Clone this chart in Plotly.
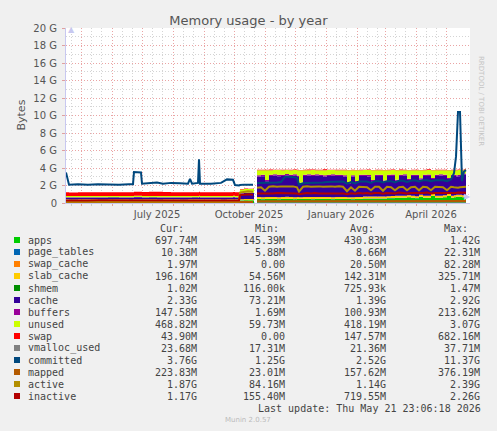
import plotly.graph_objects as go

# values in GiB, sampled from the yearly munin graph
dates = [
    "2025-04-16", "2025-04-19", "2025-04-28", "2025-05-08", "2025-05-18", "2025-05-28",
    "2025-06-08", "2025-06-18", "2025-06-22", "2025-06-23", "2025-06-30", "2025-07-01",
    "2025-07-08", "2025-07-16", "2025-07-22", "2025-07-30", "2025-08-08", "2025-08-16",
    "2025-08-18", "2025-08-20", "2025-08-26", "2025-08-27", "2025-08-28", "2025-09-08",
    "2025-09-18", "2025-09-24", "2025-09-30", "2025-10-02", "2025-10-06",
    "2025-10-07", "2025-10-11", "2025-10-15", "2025-10-20",
    "2025-10-21",
    "2025-10-24", "2025-10-28", "2025-11-01", "2025-11-05", "2025-11-09", "2025-11-13",
    "2025-11-17", "2025-11-21", "2025-11-25", "2025-11-29", "2025-12-03", "2025-12-05",
    "2025-12-09", "2025-12-13", "2025-12-17", "2025-12-21", "2025-12-25", "2025-12-29",
    "2026-01-02", "2026-01-06", "2026-01-10", "2026-01-14", "2026-01-18", "2026-01-22",
    "2026-01-26", "2026-01-30", "2026-02-03", "2026-02-07", "2026-02-11", "2026-02-15",
    "2026-02-19", "2026-02-23", "2026-02-27", "2026-03-03", "2026-03-07", "2026-03-11",
    "2026-03-15", "2026-03-19", "2026-03-23", "2026-03-27", "2026-03-31", "2026-04-04",
    "2026-04-08", "2026-04-12", "2026-04-16", "2026-04-20", "2026-04-24", "2026-04-28",
    "2026-05-02", "2026-05-06", "2026-05-09", "2026-05-11", "2026-05-13", "2026-05-15",
    "2026-05-17", "2026-05-19", "2026-05-21",
]

apps = [
    0.35, 0.34, 0.35, 0.35, 0.34, 0.35, 0.35, 0.34, 0.35, 0.36, 0.36, 0.35, 0.35, 0.34, 0.35,
    0.35, 0.34, 0.35, 0.35, 0.35, 0.35, 0.36, 0.35, 0.35, 0.34, 0.35, 0.36, 0.35, 0.35,
    0.30, 0.32, 0.31, 0.30,
    0,
    0.45, 0.44, 0.45, 0.46, 0.45, 0.44, 0.45, 0.46, 0.45, 0.44,
    0.45, 0.45, 0.46, 0.45, 0.44, 0.45, 0.46, 0.45, 0.45, 0.44,
    0.45, 0.46, 0.45, 0.45, 0.44, 0.45, 0.46, 0.50, 0.50, 0.50,
    0.50, 0.50, 0.50, 0.55, 0.55, 0.60, 0.60, 0.60, 0.65, 0.60,
    0.55, 0.70, 0.60, 0.60, 0.80, 0.60, 0.60, 0.65, 0.80, 0.60,
    0.65, 0.70, 0.70, 0.70, 0.65, 0.70, 0.70,
]
page_tables = [
    0.006, 0.006, 0.006, 0.006, 0.006, 0.006, 0.006, 0.006, 0.006, 0.006, 0.006, 0.006, 0.006,
    0.006, 0.006, 0.006, 0.006, 0.006, 0.006, 0.006, 0.006, 0.006, 0.006, 0.006, 0.006, 0.006,
    0.006, 0.006, 0.006,
    0.008, 0.008, 0.008, 0.008,
    0,
    0.010, 0.010, 0.010, 0.010, 0.010, 0.010, 0.010, 0.010, 0.010, 0.010,
    0.010, 0.010, 0.010, 0.010, 0.010, 0.010, 0.010, 0.010, 0.010, 0.010,
    0.010, 0.010, 0.010, 0.010, 0.010, 0.010, 0.010, 0.010, 0.010, 0.010,
    0.010, 0.010, 0.010, 0.010, 0.010, 0.010, 0.010, 0.010, 0.010, 0.010,
    0.010, 0.010, 0.010, 0.010, 0.010, 0.010, 0.010, 0.010, 0.010, 0.010,
    0.010, 0.011, 0.012, 0.012, 0.011, 0.010, 0.010,
]
swap_cache = [
    0.004, 0.004, 0.004, 0.004, 0.004, 0.004, 0.004, 0.004, 0.004, 0.005, 0.005, 0.004, 0.004,
    0.004, 0.004, 0.004, 0.004, 0.004, 0.004, 0.004, 0.004, 0.005, 0.004, 0.004, 0.004, 0.004,
    0.004, 0.004, 0.004,
    0.010, 0.010, 0.010, 0.010,
    0,
    0.020, 0.020, 0.030, 0.020, 0.020, 0.020, 0.020, 0.020, 0.020, 0.020,
    0.020, 0.030, 0.020, 0.020, 0.020, 0.020, 0.020, 0.020, 0.020, 0.020,
    0.020, 0.020, 0.020, 0.030, 0.020, 0.030, 0.020, 0.020, 0.020, 0.030,
    0.020, 0.020, 0.030, 0.020, 0.020, 0.030, 0.020, 0.020, 0.030, 0.020,
    0.020, 0.030, 0.020, 0.020, 0.030, 0.020, 0.020, 0.020, 0.030, 0.020,
    0.020, 0.020, 0.020, 0.020, 0.020, 0.010, 0.002,
]
slab_cache = [
    0.06, 0.06, 0.06, 0.06, 0.06, 0.06, 0.06, 0.06, 0.06, 0.06, 0.06, 0.06, 0.06, 0.06, 0.06,
    0.06, 0.06, 0.06, 0.06, 0.06, 0.06, 0.06, 0.06, 0.06, 0.06, 0.06, 0.06, 0.06, 0.06,
    0.12, 0.12, 0.12, 0.12,
    0,
    0.20, 0.20, 0.19, 0.20, 0.21, 0.20, 0.20, 0.21, 0.20, 0.20,
    0.20, 0.18, 0.20, 0.20, 0.21, 0.20, 0.20, 0.20, 0.21, 0.20,
    0.20, 0.20, 0.20, 0.18, 0.20, 0.19, 0.20, 0.20, 0.21, 0.19,
    0.20, 0.20, 0.19, 0.20, 0.21, 0.19, 0.20, 0.20, 0.19, 0.20,
    0.20, 0.19, 0.20, 0.21, 0.19, 0.20, 0.20, 0.20, 0.19, 0.20,
    0.20, 0.20, 0.21, 0.21, 0.20, 0.20, 0.196,
]
shmem = [
    0.0005, 0.0005, 0.0005, 0.0005, 0.0005, 0.0005, 0.0005, 0.0005, 0.0005, 0.0005, 0.0005,
    0.0005, 0.0005, 0.0005, 0.0005, 0.0005, 0.0005, 0.0005, 0.0005, 0.0005, 0.0005, 0.0005,
    0.0005, 0.0005, 0.0005, 0.0005, 0.0005, 0.0005, 0.0005,
    0.0008, 0.0008, 0.0008, 0.0008,
    0,
    0.001, 0.001, 0.001, 0.001, 0.001, 0.001, 0.001, 0.001, 0.001, 0.001,
    0.001, 0.001, 0.001, 0.001, 0.001, 0.001, 0.001, 0.001, 0.001, 0.001,
    0.001, 0.001, 0.001, 0.001, 0.001, 0.001, 0.001, 0.001, 0.001, 0.001,
    0.001, 0.001, 0.001, 0.001, 0.001, 0.001, 0.001, 0.001, 0.001, 0.001,
    0.001, 0.001, 0.001, 0.001, 0.001, 0.001, 0.001, 0.001, 0.001, 0.001,
    0.001, 0.001, 0.001, 0.001, 0.001, 0.001, 0.001,
]
cache = [
    0.22, 0.22, 0.21, 0.22, 0.22, 0.23, 0.22, 0.22, 0.21, 0.22, 0.22, 0.22, 0.23, 0.22, 0.22,
    0.21, 0.22, 0.22, 0.22, 0.23, 0.22, 0.22, 0.22, 0.21, 0.22, 0.22, 0.23, 0.22, 0.22,
    0.65, 0.70, 0.72, 0.70,
    0,
    2.35, 2.40, 1.80, 2.40, 2.45, 2.40, 2.40, 2.45, 2.40, 2.45,
    2.30, 1.50, 2.40, 2.45, 2.40, 2.45, 2.40, 2.35, 2.40, 2.45,
    2.40, 2.40, 2.35, 1.60, 2.35, 1.70, 2.40, 2.35, 2.30, 1.75,
    2.35, 2.35, 1.70, 2.30, 2.30, 1.70, 2.25, 2.30, 1.75, 2.25,
    2.30, 1.75, 2.25, 2.25, 1.70, 2.25, 2.30, 2.20, 1.70, 2.25,
    2.20, 2.10, 2.10, 2.15, 2.25, 2.30, 2.33,
]
buffers = [
    0.02, 0.02, 0.02, 0.02, 0.02, 0.02, 0.02, 0.02, 0.02, 0.02, 0.02, 0.02, 0.02, 0.02, 0.02,
    0.02, 0.02, 0.02, 0.02, 0.02, 0.02, 0.02, 0.02, 0.02, 0.02, 0.02, 0.02, 0.02, 0.02,
    0.04, 0.04, 0.04, 0.04,
    0,
    0.15, 0.15, 0.14, 0.15, 0.15, 0.16, 0.15, 0.15, 0.15, 0.16,
    0.15, 0.14, 0.15, 0.15, 0.16, 0.15, 0.15, 0.15, 0.15, 0.16,
    0.15, 0.15, 0.15, 0.14, 0.15, 0.14, 0.15, 0.16, 0.15, 0.14,
    0.15, 0.15, 0.14, 0.15, 0.16, 0.14, 0.15, 0.15, 0.14, 0.15,
    0.15, 0.14, 0.15, 0.16, 0.14, 0.15, 0.15, 0.15, 0.14, 0.15,
    0.15, 0.15, 0.15, 0.15, 0.15, 0.15, 0.148,
]
unused = [
    0.15, 0.15, 0.16, 0.15, 0.15, 0.14, 0.15, 0.15, 0.16, 0.15, 0.15, 0.15, 0.14, 0.15, 0.15,
    0.16, 0.15, 0.15, 0.15, 0.14, 0.15, 0.15, 0.15, 0.16, 0.15, 0.15, 0.14, 0.15, 0.15,
    0.42, 0.40, 0.38, 0.42,
    0,
    0.57, 0.53, 1.12, 0.51, 0.47, 0.53, 0.52, 0.46, 0.52, 0.48,
    0.62, 1.42, 0.51, 0.47, 0.53, 0.47, 0.51, 0.57, 0.52, 0.48,
    0.52, 0.51, 0.57, 1.32, 0.58, 1.22, 0.51, 0.52, 0.57, 1.12,
    0.52, 0.52, 1.17, 0.52, 0.52, 1.07, 0.52, 0.47, 0.97, 0.52,
    0.52, 0.92, 0.52, 0.52, 0.87, 0.52, 0.47, 0.52, 0.87, 0.52,
    0.52, 0.57, 0.57, 0.52, 0.47, 0.47, 0.47,
]
swap = [
    0.42, 0.40, 0.42, 0.41, 0.42, 0.42, 0.41, 0.42, 0.42, 0.45, 0.46, 0.44, 0.47, 0.48, 0.45,
    0.43, 0.42, 0.42, 0.43, 0.42, 0.42, 0.45, 0.42, 0.41, 0.42, 0.42, 0.43, 0.42, 0.40,
    0.05, 0.06, 0.05, 0.05,
    0,
    0.05, 0.06, 0.05, 0.08, 0.05, 0.05, 0.06, 0.05, 0.05, 0.06,
    0.05, 0.04, 0.05, 0.08, 0.05, 0.05, 0.05, 0.10, 0.05, 0.05,
    0.05, 0.06, 0.05, 0.04, 0.05, 0.04, 0.05, 0.05, 0.08, 0.04,
    0.05, 0.05, 0.04, 0.05, 0.06, 0.04, 0.08, 0.05, 0.04, 0.05,
    0.06, 0.04, 0.05, 0.08, 0.04, 0.05, 0.06, 0.05, 0.04, 0.05,
    0.05, 0.05, 0.06, 0.05, 0.05, 0.05, 0.044,
]
vmalloc_used = [
    0.017, 0.017, 0.017, 0.017, 0.017, 0.017, 0.017, 0.017, 0.017, 0.018, 0.018, 0.017, 0.017,
    0.017, 0.017, 0.017, 0.017, 0.017, 0.017, 0.017, 0.017, 0.018, 0.017, 0.017, 0.017, 0.017,
    0.017, 0.017, 0.017,
    0.018, 0.018, 0.018, 0.018,
    None,
    0.021, 0.021, 0.022, 0.021, 0.021, 0.022, 0.022, 0.022, 0.021, 0.022,
    0.022, 0.021, 0.022, 0.022, 0.022, 0.022, 0.022, 0.022, 0.022, 0.022,
    0.022, 0.022, 0.022, 0.021, 0.022, 0.022, 0.022, 0.023, 0.023, 0.022,
    0.023, 0.023, 0.022, 0.023, 0.023, 0.022, 0.023, 0.023, 0.022, 0.023,
    0.023, 0.022, 0.023, 0.023, 0.022, 0.023, 0.023, 0.023, 0.022, 0.023,
    0.024, 0.030, 0.035, 0.035, 0.024, 0.024, 0.024,
]
committed = [
    3.50, 2.10, 2.15, 2.10, 2.15, 2.10, 2.10, 2.15, 2.15, 3.55, 3.50, 2.20, 2.25, 2.35, 2.20,
    2.30, 2.25, 2.20, 2.75, 2.20, 2.30, 5.00, 2.20, 2.20, 2.30, 2.70, 2.65, 2.05, 2.00,
    2.05, 2.10, 2.10, 2.10,
    None,
    2.30, 2.30, 2.30, 2.35, 2.35, 2.35, 2.40, 3.00, 3.00, 2.95,
    2.90, 2.10, 2.25, 2.30, 2.30, 2.35, 2.35, 2.35, 2.40, 2.40,
    2.40, 2.40, 2.45, 2.20, 2.40, 2.25, 2.45, 2.45, 2.45, 2.30,
    2.50, 2.50, 2.35, 2.50, 2.50, 2.35, 2.55, 2.55, 2.40, 2.55,
    2.60, 2.45, 2.60, 2.60, 2.50, 2.60, 2.60, 2.60, 2.50, 2.70,
    3.40, 5.30, 10.40, 10.40, 2.50, 3.60, 3.76,
]
mapped = [
    0.05, 0.05, 0.04, 0.05, 0.05, 0.06, 0.05, 0.05, 0.05, 0.06, 0.06, 0.05, 0.05, 0.05, 0.05,
    0.04, 0.05, 0.05, 0.05, 0.05, 0.05, 0.06, 0.05, 0.05, 0.05, 0.05, 0.06, 0.05, 0.05,
    0.10, 0.12, 0.12, 0.11,
    None,
    0.20, 0.20, 0.19, 0.20, 0.21, 0.20, 0.20, 0.21, 0.20, 0.20,
    0.20, 0.18, 0.20, 0.20, 0.21, 0.20, 0.20, 0.20, 0.21, 0.20,
    0.20, 0.20, 0.20, 0.18, 0.20, 0.19, 0.20, 0.20, 0.21, 0.19,
    0.20, 0.20, 0.19, 0.20, 0.21, 0.19, 0.20, 0.20, 0.19, 0.20,
    0.21, 0.19, 0.20, 0.21, 0.19, 0.20, 0.21, 0.21, 0.19, 0.21,
    0.22, 0.22, 0.23, 0.23, 0.22, 0.22, 0.22,
]
active = [
    0.17, 0.16, 0.17, 0.17, 0.18, 0.17, 0.17, 0.16, 0.17, 0.18, 0.18, 0.17, 0.17, 0.18, 0.17,
    0.17, 0.16, 0.17, 0.17, 0.17, 0.18, 0.19, 0.17, 0.17, 0.16, 0.17, 0.18, 0.17, 0.17,
    1.20, 1.30, 1.35, 1.30,
    None,
    1.75, 1.80, 1.40, 1.85, 1.90, 1.85, 1.90, 1.90, 1.85, 1.90,
    1.80, 1.30, 1.85, 1.90, 1.85, 1.90, 1.90, 1.85, 1.90, 1.90,
    1.85, 1.90, 1.85, 1.35, 1.80, 1.40, 1.85, 1.85, 1.80, 1.45,
    1.85, 1.85, 1.40, 1.85, 1.80, 1.45, 1.80, 1.85, 1.45, 1.80,
    1.85, 1.45, 1.85, 1.80, 1.45, 1.85, 1.85, 1.80, 1.45, 1.85,
    1.80, 1.75, 1.75, 1.80, 1.85, 1.90, 1.87,
]
inactive = [
    0.30, 0.29, 0.30, 0.30, 0.31, 0.30, 0.30, 0.29, 0.30, 0.31, 0.31, 0.30, 0.30, 0.31, 0.30,
    0.30, 0.29, 0.30, 0.30, 0.30, 0.31, 0.32, 0.30, 0.30, 0.29, 0.30, 0.31, 0.30, 0.30,
    0.90, 0.95, 1.00, 0.95,
    None,
    1.10, 1.10, 1.05, 1.10, 1.10, 1.15, 1.15, 1.15, 1.10, 1.15,
    1.10, 1.00, 1.10, 1.15, 1.10, 1.15, 1.10, 1.10, 1.15, 1.10,
    1.15, 1.10, 1.10, 1.00, 1.10, 1.05, 1.15, 1.10, 1.15, 1.05,
    1.15, 1.15, 1.05, 1.15, 1.15, 1.10, 1.20, 1.15, 1.10, 1.15,
    1.15, 1.10, 1.15, 1.20, 1.10, 1.15, 1.15, 1.15, 1.10, 1.15,
    1.15, 1.15, 1.20, 1.20, 1.20, 1.17, 1.17,
]

# legend table (as printed by munin)
legend_names = ['apps', 'page_tables', 'swap_cache', 'slab_cache', 'shmem', 'cache', 'buffers',
                'unused', 'swap', 'vmalloc_used', 'committed', 'mapped', 'active', 'inactive']
legend_colors = ['#00CC00', '#0066B3', '#FF8000', '#FFCC00', '#008F00', '#330099', '#990099',
                 '#CCFF00', '#FF0000', '#808080', '#00487D', '#B35A00', '#B38F00', '#B30000']
cur_vals = ['697.74M', '10.38M', '1.97M', '196.16M', '1.02M', '2.33G', '147.58M',
            '468.82M', '43.90M', '23.68M', '3.76G', '223.83M', '1.87G', '1.17G']
min_vals = ['145.39M', '5.88M', '0.00', '54.56M', '116.00k', '73.21M', '1.69M',
            '59.73M', '0.00', '17.31M', '1.25G', '23.01M', '84.16M', '155.40M']
avg_vals = ['430.83M', '8.66M', '20.50M', '142.31M', '725.93k', '1.39G', '100.93M',
            '418.19M', '147.57M', '21.36M', '2.52G', '157.62M', '1.14G', '719.55M']
max_vals = ['1.42G', '22.31M', '82.28M', '325.71M', '1.47M', '2.92G', '213.62M',
            '3.07G', '682.16M', '37.71M', '11.37G', '376.19M', '2.39G', '2.26G']

y_ticks = [0, 2, 4, 6, 8, 10, 12, 14, 16, 18, 20]
y_labels = ['0', '2 G', '4 G', '6 G', '8 G', '10 G', '12 G', '14 G', '16 G', '18 G', '20 G']
month_ticks = ['2025-05-01', '2025-06-01', '2025-07-01', '2025-08-01', '2025-09-01',
               '2025-10-01', '2025-11-01', '2025-12-01', '2026-01-01', '2026-02-01',
               '2026-03-01', '2026-04-01', '2026-05-01']
month_labels = ['', '', 'July 2025', '', '', 'October 2025', '', '', 'January 2026', '', '',
                'April 2026', '']

# plot area in pixels
L, R, T, B = 66, 470, 28, 203
W, H = 497, 431


def px_x(px):
    return (px - L) / (R - L)


def px_y(py):
    return (B - py) / (B - T)


areas = [apps, page_tables, swap_cache, slab_cache, shmem, cache, buffers, unused, swap]
lines = [vmalloc_used, committed, mapped, active, inactive]

fig = go.Figure()
for i, vals in enumerate(areas):
    c = legend_colors[i]
    fig.add_trace(go.Scatter(x=dates, y=vals, name=legend_names[i], mode='lines',
                             stackgroup='mem', fillcolor=c,
                             line=dict(width=0, color=c, shape='hv')))
for j, vals in enumerate(lines):
    i = len(areas) + j
    fig.add_trace(go.Scatter(x=dates, y=vals, name=legend_names[i], mode='lines',
                             line=dict(width=2 if j else 1, color=legend_colors[i])))

minor_x = [m[:8] + d for m in month_ticks[:-1] for d in ('11', '21')] + ['2025-04-21']

fig.update_layout(
    width=W, height=H,
    margin=dict(l=L, r=W - R, t=T, b=H - B),
    paper_bgcolor='#F0F0F0',
    plot_bgcolor='white',
    showlegend=False,
    font=dict(family='DejaVu Sans', size=10, color='#555'),
    title=dict(text='Memory usage - by year', x=0.5, xref='container', xanchor='center',
               y=1 - 20 / H, yanchor='middle', font=dict(size=13, color='#555')),
    xaxis=dict(
        type='date', range=['2025-04-16', '2026-05-25'],
        tickmode='array', tickvals=month_ticks, ticktext=month_labels,
        ticklabelshift=15, ticks='outside', ticklen=2, tickcolor='#E0A0A0',
        showgrid=True, gridcolor='#EAA4A4', griddash='1px,2px', gridwidth=1,
        minor=dict(tickmode='array', tickvals=minor_x, showgrid=True,
                   gridcolor='#D4D4D4', griddash='1px,2px', ticks='outside', ticklen=2,
                   tickcolor='#CCCCCC'),
        showline=True, linecolor='#C8C8F0', linewidth=1,
        layer='above traces', zeroline=False, fixedrange=True,
    ),
    yaxis=dict(
        range=[0, 20], tickmode='array', tickvals=y_ticks, ticktext=y_labels,
        ticks='outside', ticklen=3, tickcolor='#E0A0A0', ticklabelstandoff=3,
        showgrid=True, gridcolor='#EAA4A4', griddash='1px,2px', gridwidth=1,
        minor=dict(dtick=1, showgrid=True, gridcolor='#D4D4D4', griddash='1px,2px'),
        showline=True, linecolor='#C8C8F0', linewidth=1,
        layer='above traces', zeroline=False, fixedrange=True,
    ),
)

ann = []
shapes = []
# axis arrows
ann.append(dict(x=px_x(L), y=px_y(T - 5), xref='paper', yref='paper', text='▲', showarrow=False,
                font=dict(size=8, color='#C8C8F0')))
ann.append(dict(x=px_x(R + 3), y=px_y(B), xref='paper', yref='paper', text='▶', showarrow=False,
                font=dict(size=8, color='#C8C8F0')))
ann.append(dict(x=px_x(12), y=px_y(115), xref='paper', yref='paper', text='Bytes',
                textangle=-90, showarrow=False, font=dict(size=11, color='#555')))
ann.append(dict(x=px_x(487), y=px_y(54), xref='paper', yref='paper',
                text='RRDTOOL / TOBI OETIKER', textangle=90, showarrow=False,
                font=dict(size=7, color='#C4C4C4')))

mono = dict(family='DejaVu Sans Mono', size=10, color='#444')
cols = [(199, cur_vals), (287, min_vals), (388, avg_vals), (482, max_vals)]
for head, xr in (('Cur:', 186), ('Min:', 281), ('Avg:', 376), ('Max:', 470)):
    ann.append(dict(x=px_x(xr), y=px_y(228), xref='paper', yref='paper', text=head,
                    xanchor='right', yanchor='middle', showarrow=False, font=mono))
for i, name in enumerate(legend_names):
    yy = 240 + 12 * i
    shapes.append(dict(type='rect', xref='paper', yref='paper',
                       x0=px_x(14), x1=px_x(20), y0=px_y(yy + 3), y1=px_y(yy - 3),
                       fillcolor=legend_colors[i], line=dict(width=0)))
    ann.append(dict(x=px_x(26), y=px_y(yy), xref='paper', yref='paper', text=name,
                    xanchor='left', yanchor='middle', showarrow=False, font=mono))
    for xr, vals in cols:
        ann.append(dict(x=px_x(xr), y=px_y(yy), xref='paper', yref='paper', text=vals[i],
                        xanchor='right', yanchor='middle', showarrow=False, font=mono))
ann.append(dict(x=px_x(483), y=px_y(408), xref='paper', yref='paper',
                text='Last update: Thu May 21 23:06:18 2026', xanchor='right',
                yanchor='middle', showarrow=False, font=mono))
ann.append(dict(x=px_x(248), y=px_y(420), xref='paper', yref='paper', text='Munin 2.0.57',
                xanchor='center', yanchor='middle', showarrow=False,
                font=dict(family='DejaVu Sans', size=7, color='#BBBBBB')))

fig.update_layout(annotations=ann, shapes=shapes)

# drop the browser's default body margin so the figure sits at the page origin
fig.write_html("out.html", config={'displayModeBar': False},
               post_script="document.body.style.margin='0';")
